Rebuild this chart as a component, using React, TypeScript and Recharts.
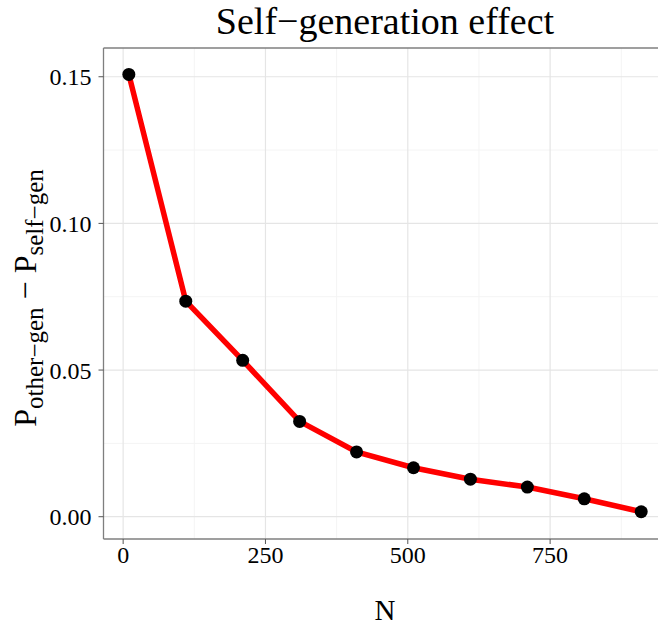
import { LineChart, Line, XAxis, YAxis, CartesianGrid, ReferenceLine } from "recharts";

const nValues = [10, 110, 210, 310, 410, 510, 610, 710, 810, 910];
const effectValues = [0.1508, 0.0735, 0.0533, 0.0325, 0.0221, 0.0167, 0.0128, 0.0101, 0.0061, 0.0017];
const xTicks = [0, 250, 500, 750];
const yTicks = [0, 0.05, 0.1, 0.15];
const xMinor = [125, 375, 625, 875];
const yMinor = [0.025, 0.075, 0.125];
// the panel runs past the right edge of the picture, so the x range ends at the picture edge
const xDomain = [-34.5, 939.5];
const yDomain = [-0.0076, 0.1598];
const chartTitle = "Self\u2212generation effect";
const xTitle = "N";

const SERIF = "'Liberation Serif', 'Times New Roman', serif";
const BORDER = "#7f7f7f";

const data = nValues.map((n, i) => ({ n, effect: effectValues[i] }));

// y title drawn as plotmath-like text: P[other-gen] - P[self-gen]
function YTitle() {
    return (
        <text
            transform="translate(36, 298) rotate(-90)"
            textAnchor="middle"
            fontFamily={SERIF}
            fontSize={32}
            fill="#000"
        >
            <tspan>P</tspan>
            <tspan fontSize={25} dy={7}>other{"\u2212"}gen</tspan>
            <tspan dy={-7} dx={8}>{"\u2212"}</tspan>
            <tspan dx={8}>P</tspan>
            <tspan fontSize={25} dy={7}>self{"\u2212"}gen</tspan>
        </text>
    );
}

export default function App() {
    const tickStyle = { fontFamily: SERIF, fontSize: 24, fill: "#000" };
    return (
        <div
            style={{
                position: "absolute",
                left: 0,
                top: 0,
                width: 658,
                height: 626,
                overflow: "hidden",
                background: "#fff",
            }}
        >
            <LineChart width={658} height={626} data={data} margin={{ top: 48, right: 0, bottom: 0, left: 0 }}>
                <CartesianGrid stroke="#f4f4f4" strokeWidth={1} horizontalValues={yMinor} verticalValues={xMinor} />
                <CartesianGrid stroke="#e5e5e5" strokeWidth={1.2} horizontalValues={yTicks} verticalValues={xTicks} />
                <XAxis
                    dataKey="n"
                    type="number"
                    domain={xDomain}
                    ticks={xTicks}
                    allowDataOverflow
                    height={87}
                    axisLine={{ stroke: BORDER, strokeWidth: 1.3 }}
                    tickSize={5}
                    tickMargin={2}
                    tickLine={{ stroke: "#555" }}
                    tick={tickStyle}
                />
                <YAxis
                    type="number"
                    domain={yDomain}
                    ticks={yTicks}
                    allowDataOverflow
                    width={103.5}
                    axisLine={{ stroke: BORDER, strokeWidth: 1.3 }}
                    tickSize={5}
                    tickMargin={7}
                    tickLine={{ stroke: "#555" }}
                    tick={tickStyle}
                    tickFormatter={(v: number) => v.toFixed(2)}
                />
                <ReferenceLine y={yDomain[1]} stroke={BORDER} strokeWidth={1.3} />
                <Line
                    dataKey="effect"
                    type="linear"
                    stroke="#ff0000"
                    strokeWidth={5.5}
                    dot={{ r: 6.5, fill: "#000", stroke: "none" }}
                    activeDot={false}
                    isAnimationActive={false}
                />
                <text x={385} y={34} textAnchor="middle" fontFamily={SERIF} fontSize={38} fill="#000">
                    {chartTitle}
                </text>
                <text x={385} y={620} textAnchor="middle" fontFamily={SERIF} fontSize={29} fill="#000">
                    {xTitle}
                </text>
                <YTitle />
            </LineChart>
        </div>
    );
}
